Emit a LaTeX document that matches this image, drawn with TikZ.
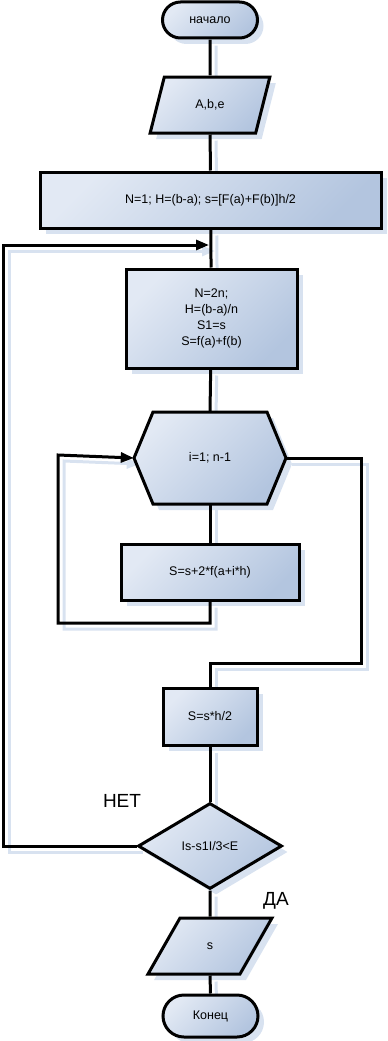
\documentclass[tikz,border=0pt]{standalone}
\usepackage{fontspec}
\setmainfont{Liberation Sans}
\newfontfamily\lblfont{Liberation Sans}
\usetikzlibrary{shapes.geometric,shapes.misc,shadows,backgrounds,arrows.meta}
\definecolor{cA}{HTML}{E2E9F4}
\definecolor{cB}{HTML}{B3C5DF}
\definecolor{shc}{HTML}{D8E2F0}
\newcommand\conn[2][]{%
  \begin{scope}[on background layer]\draw[shline,#1,transform canvas={shift={(6pt,-6pt)}}] #2;\end{scope}%
  \draw[cline,#1] #2;}
\begin{document}
\begin{tikzpicture}[x=1pt,y=-1pt,
  fillsty/.style={draw=black, line width=3pt, top color=cA, bottom color=cB, shading angle=45,
    drop shadow={shadow xshift=6pt,shadow yshift=-6pt,fill=shc,opacity=1}},
  box/.style={fillsty, font=\fontsize{12.5}{16}\selectfont, inner sep=0pt, align=center},
  txt/.style={font=\fontsize{12.5}{16}\selectfont, inner sep=0pt, align=center},
  cline/.style={draw=black, line width=3pt},
  shline/.style={draw=shc, line width=3pt},
  arr/.style={-{Triangle[length=13pt,width=10pt]}},
  lbl/.style={font=\lblfont\fontsize{19}{22}\selectfont, inner sep=0pt}]
\useasboundingbox (0,0) rectangle (388,1041);

\node[box, rounded rectangle, minimum width=95pt, minimum height=36pt] (start) at (210,20) {начало};
\node[box, trapezium, trapezium left angle=67, trapezium right angle=113, trapezium stretches=true,
      minimum width=120pt, minimum height=56pt] (inp) at (210,105) {A,b,e};
\node[box, rectangle, minimum width=341pt, minimum height=56pt] (r1) at (210.5,200) {N=1; H=(b-a); s=[F(a)+F(b)]h/2};
\node[box, rectangle, minimum width=171pt, minimum height=99pt] (r2) at (211.5,318.5) {N=2n;\\H=(b-a)/n\\S1=s\\S=f(a)+f(b)};
\path[fillsty] (153,412) -- (267,412) -- (286,458) -- (267,504) -- (153,504) -- (134,458) -- cycle;
\node[txt, minimum width=152pt, minimum height=92pt] (hex) at (210,458) {i=1; n-1};
\node[box, rectangle, minimum width=178pt, minimum height=56pt] (r3) at (210,572) {S=s+2*f(a+i*h)};
\node[box, rectangle, minimum width=94pt, minimum height=57pt] (r4) at (210,716.5) {S=s*h/2};
\node[box, diamond, aspect=1.67, minimum width=144pt, minimum height=86pt] (dec) at (210,846) {Is-s1I/3<E};
\node[box, trapezium, trapezium left angle=64, trapezium right angle=116, trapezium stretches=true,
      minimum width=124pt, minimum height=56pt] (out) at (210,946) {s};
\node[box, rounded rectangle, minimum width=95pt, minimum height=42pt] (end) at (210.5,1016) {Конец};

\node[lbl] (net) at (122,801) {НЕТ};
\node[lbl] (da) at (276,901) {ДА};

\coordinate (j1) at (209,245);
\coordinate (jl) at (3,245);
\coordinate (c1) at (58,623);
\coordinate (c2) at (58,455);
\coordinate (c3) at (361,663);

\conn{(start) -- (inp)}
\conn{(inp) -- (r1)}
\conn{(r1) -- (r2)}
\conn{(r2) -- (hex.north)}
\conn{(hex.south) -- (r3)}
\conn[arr]{(r3.south) |- (c1) -- (c2) -- (hex.west)}
\conn{(hex.east) -| (c3) -| (r4.north)}
\conn{(r4) -- (dec)}
\conn[arr]{(dec.west) -| (jl) -- (j1)}
\conn{(dec.south) -- (out.north)}
\conn{(out.south) -- (end.north)}
\end{tikzpicture}
\end{document}
